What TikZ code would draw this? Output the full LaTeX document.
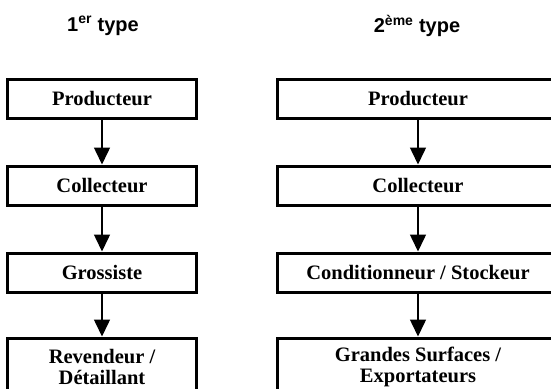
\documentclass[tikz,border=0pt]{standalone}
\usepackage{fontspec}
\setmainfont{Liberation Serif}
\newfontfamily\titlefont{Liberation Sans}
\usetikzlibrary{arrows.meta}
\tikzset{
  box/.style={draw, line width=3bp, inner sep=0pt, align=center,
    font=\fontsize{20.5bp}{21bp}\selectfont\bfseries},
  lbox/.style={box, minimum width=188bp, minimum height=39bp},
  rbox/.style={box, minimum width=282bp, minimum height=39bp},
  title/.style={font=\titlefont\fontsize{20bp}{24bp}\selectfont\bfseries},
  flow/.style={line width=1.5bp, -{Triangle[width=16bp,length=17bp]}}
}
\begin{document}
\begin{tikzpicture}[x=1bp,y=-1bp]
\useasboundingbox (0,0) rectangle (551,388);
\clip (0,0) rectangle (551,388);
\node[title] (t1) at (103,26) {1\textsuperscript{er} type};
\node[title] (t2) at (417,26) {2\textsuperscript{ème} type};

\node[lbox] (l1) at (102,98.5) {Producteur};
\node[lbox] (l2) at (102,185.5) {Collecteur};
\node[lbox] (l3) at (102,272.5) {Grossiste};
\node[lbox, minimum height=58bp] (l4) at (102,367) {Revendeur /\\Détaillant};

\node[rbox] (r1) at (418,98.5) {Producteur};
\node[rbox] (r2) at (418,185.5) {Collecteur};
\node[rbox] (r3) at (418,272.5) {Conditionneur / Stockeur};
\node[rbox, minimum height=58bp] (r4) at (418,367) {Grandes Surfaces /\\Exportateurs};

\draw[flow] (l1.south) -- (l2.north);
\draw[flow] (l2.south) -- (l3.north);
\draw[flow] (l3.south) -- (l4.north);
\draw[flow] (r1.south) -- (r2.north);
\draw[flow] (r2.south) -- (r3.north);
\draw[flow] (r3.south) -- (r4.north);
\end{tikzpicture}
\end{document}
